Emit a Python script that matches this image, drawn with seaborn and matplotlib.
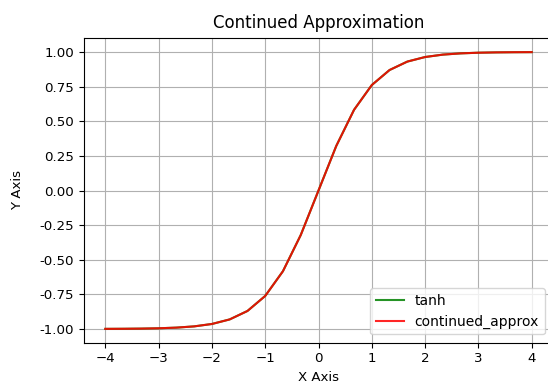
import numpy as np
import pandas as pd
import matplotlib
matplotlib.use("Agg")
import matplotlib.pyplot as plt
import seaborn as sns

# Sample points on [-4, 4]
x_values = [-4.0, -3.667, -3.333, -3.0, -2.667, -2.333, -2.0, -1.667, -1.333,
            -1.0, -0.667, -0.333, 0.0, 0.333, 0.667, 1.0, 1.333, 1.667,
            2.0, 2.333, 2.667, 3.0, 3.333, 3.667, 4.0]

# Reference hyperbolic tangent
tanh_values = [-0.9993, -0.9987, -0.9975, -0.9951, -0.9904, -0.9814, -0.9640,
               -0.9311, -0.8701, -0.7616, -0.5828, -0.3215, 0.0, 0.3215,
               0.5828, 0.7616, 0.8701, 0.9311, 0.9640, 0.9814, 0.9904,
               0.9951, 0.9975, 0.9987, 0.9993]

# Continued-fraction approximation of tanh
approx_values = [-0.9993, -0.9987, -0.9975, -0.9951, -0.9904, -0.9814, -0.9640,
                 -0.9311, -0.8701, -0.7616, -0.5828, -0.3215, 0.0, 0.3215,
                 0.5828, 0.7616, 0.8701, 0.9311, 0.9640, 0.9814, 0.9904,
                 0.9951, 0.9975, 0.9987, 0.9993]

series_names = ["tanh", "continued_approx"]
series_colors = ["g", "r"]

df = pd.DataFrame({
    "x": x_values * 2,
    "y": tanh_values + approx_values,
    "series": [series_names[0]] * len(x_values) + [series_names[1]] * len(x_values),
})

plt.rcParams["font.family"] = ["DejaVu Sans"]

fig = plt.figure(figsize=(5.48, 3.82), dpi=100)
ax = fig.add_axes([84 / 548, (382 - 342.7) / 382, (553 - 84) / 548, (342.7 - 38.3) / 382])

sns.lineplot(data=df, x="x", y="y", hue="series", palette=series_colors,
             hue_order=series_names, linewidth=1.5, alpha=0.85, ax=ax,
             sort=False)

ax.grid(True, color="#b0b0b0", linewidth=0.8)
ax.set_axisbelow(True)
ax.set_title("Continued Approximation", fontsize=12, pad=7.5)
ax.set_xlabel("X Axis", fontsize=9.6)
ax.set_ylabel("Y Axis", fontsize=9.6, labelpad=11)
ax.tick_params(labelsize=9.6)
ax.set_yticks([-1.0, -0.75, -0.5, -0.25, 0.0, 0.25, 0.5, 0.75, 1.0])
ax.yaxis.set_major_formatter(matplotlib.ticker.FormatStrFormatter("%.2f"))
ax.legend(loc="lower right", fontsize=10, borderaxespad=0.6)

fig.savefig("out.png", dpi=100)
